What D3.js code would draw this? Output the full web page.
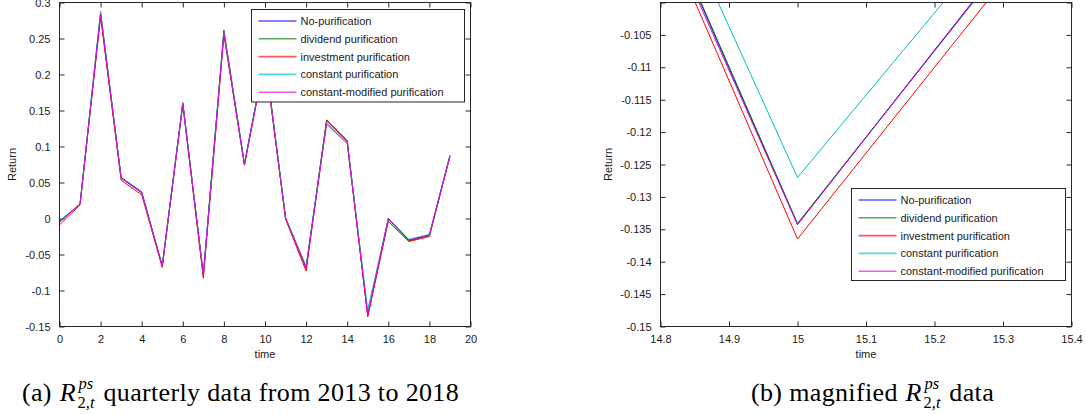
<!DOCTYPE html>
<html>
<head>
<meta charset="utf-8">
<script src="https://cdn.jsdelivr.net/npm/d3@7"></script>
<style>
  html, body { margin: 0; padding: 0; background: #fff; }
  svg { display: block; }
  .tick-label { font-family: "Liberation Sans", Arial, sans-serif; font-size: 11px; fill: #1a1a1a; }
  .caption text { font-family: "Liberation Serif", "DejaVu Serif", serif; fill: #000; white-space: pre; }
</style>
</head>
<body>
<svg id="fig" width="1086" height="414"></svg>
<script>
// Quarterly time index
const time = [0, 1, 2, 3, 4, 5, 6, 7, 8, 9, 10, 11, 12, 13, 14, 15, 16, 17, 18, 19];

// Returns of R2,t^ps under each purification scheme
const noPurification       = [-0.004, 0.020, 0.283, 0.057, 0.037, -0.066, 0.160, -0.078, 0.258, 0.075, 0.225, 0.001, -0.068, 0.136, 0.107, -0.1342, 0.000, -0.030, -0.023, 0.087];
const dividendPurification = [-0.005, 0.020, 0.286, 0.056, 0.036, -0.066, 0.161, -0.079, 0.262, 0.076, 0.226, 0.001, -0.069, 0.137, 0.108, -0.1341, -0.001, -0.031, -0.024, 0.087];
const investmentPurification = [-0.009, 0.019, 0.280, 0.053, 0.033, -0.068, 0.158, -0.083, 0.255, 0.074, 0.222, -0.001, -0.073, 0.136, 0.108, -0.1365, -0.004, -0.032, -0.025, 0.086];
const constantPurification = [-0.003, 0.020, 0.288, 0.056, 0.036, -0.065, 0.160, -0.077, 0.259, 0.075, 0.226, 0.001, -0.066, 0.133, 0.106, -0.1270, 0.000, -0.029, -0.022, 0.088];
const constantModifiedPurification = [-0.005, 0.020, 0.284, 0.056, 0.036, -0.066, 0.159, -0.078, 0.258, 0.075, 0.224, 0.000, -0.068, 0.131, 0.104, -0.1343, 0.000, -0.030, -0.023, 0.087];

const seriesNames = ["No-purification", "dividend purification", "investment purification", "constant purification", "constant-modified purification"];
const seriesColors = ["#0000ff", "#008000", "#ff0000", "#00bfbf", "#e600e6"];
const seriesValues = [noPurification, dividendPurification, investmentPurification, constantPurification, constantModifiedPurification];

// Tick values for both panels
const fullXTicks = [0, 2, 4, 6, 8, 10, 12, 14, 16, 18, 20];
const fullYTicks = [-0.15, -0.1, -0.05, 0, 0.05, 0.1, 0.15, 0.2, 0.25, 0.3];
const zoomXTicks = [14.8, 14.9, 15, 15.1, 15.2, 15.3, 15.4];
const zoomYTicks = [-0.15, -0.145, -0.14, -0.135, -0.13, -0.125, -0.12, -0.115, -0.11, -0.105, -0.1];

const svg = d3.select("#fig");

function panel(cfg) {
  const g = svg.append("g");
  const x = d3.scaleLinear().domain(cfg.xDomain).range([cfg.left, cfg.right]);
  const y = d3.scaleLinear().domain(cfg.yDomain).range([cfg.bottom, cfg.top]);
  const tickLen = 5;

  const clipId = "clip-" + cfg.id;
  svg.append("defs").append("clipPath").attr("id", clipId)
    .append("rect").attr("x", cfg.left).attr("y", cfg.top)
    .attr("width", cfg.right - cfg.left).attr("height", cfg.bottom - cfg.top);

  // axes: ticks pointing inwards on all four sides
  const fmtX = d => String(+d.toFixed(3));
  const fmtY = d => (Math.abs(d) < 1e-12 ? "0" : String(+d.toFixed(3)));

  g.append("g").attr("transform", `translate(0,${cfg.bottom})`)
    .call(d3.axisBottom(x).tickValues(cfg.xTicks).tickSizeInner(-tickLen).tickSizeOuter(0).tickPadding(9).tickFormat(fmtX))
    .call(a => a.select(".domain").remove());
  g.append("g").attr("transform", `translate(0,${cfg.top})`)
    .call(d3.axisTop(x).tickValues(cfg.xTicks).tickSizeInner(-tickLen).tickSizeOuter(0).tickFormat(""))
    .call(a => a.select(".domain").remove());
  g.append("g").attr("transform", `translate(${cfg.left},0)`)
    .call(d3.axisLeft(y).tickValues(cfg.yTicks).tickSizeInner(-tickLen).tickSizeOuter(0).tickPadding(9)
      .tickFormat(d => cfg.yHide && cfg.yHide(d) ? "" : fmtY(d)))
    .call(a => a.select(".domain").remove());
  g.append("g").attr("transform", `translate(${cfg.right},0)`)
    .call(d3.axisRight(y).tickValues(cfg.yTicks).tickSizeInner(-tickLen).tickSizeOuter(0).tickFormat(""))
    .call(a => a.select(".domain").remove());

  g.selectAll(".tick line").attr("stroke", "#262626").attr("stroke-width", 1);
  g.selectAll(".tick text").attr("class", "tick-label").attr("font-family", null).attr("font-size", null).attr("fill", null);

  // series lines
  const line = d3.line().x((d, i) => x(time[i])).y(d => y(d));
  const lines = g.append("g").attr("clip-path", `url(#${clipId})`);
  seriesValues.forEach((vals, k) => {
    lines.append("path").datum(vals)
      .attr("d", line)
      .attr("fill", "none")
      .attr("stroke", seriesColors[k])
      .attr("stroke-width", 1)
      .attr("stroke-linejoin", "miter");
  });

  // plot box
  g.append("rect").attr("x", cfg.left).attr("y", cfg.top)
    .attr("width", cfg.right - cfg.left).attr("height", cfg.bottom - cfg.top)
    .attr("fill", "none").attr("stroke", "#262626").attr("stroke-width", 1);

  // axis titles
  g.append("text").attr("class", "tick-label")
    .attr("x", (cfg.left + cfg.right) / 2).attr("y", cfg.bottom + 31)
    .attr("text-anchor", "middle").text("time");
  g.append("text").attr("class", "tick-label")
    .attr("transform", `translate(${cfg.yTitleX},${(cfg.top + cfg.bottom) / 2}) rotate(-90)`)
    .attr("text-anchor", "middle").text("Return");

  // legend
  const L = cfg.legend;
  const lg = g.append("g");
  lg.append("rect").attr("x", L.x).attr("y", L.y).attr("width", L.w).attr("height", L.h)
    .attr("fill", "#fff").attr("stroke", "#262626").attr("stroke-width", 1);
  seriesNames.forEach((name, k) => {
    const yy = L.y + 11.5 + k * 17.8;
    lg.append("line").attr("x1", L.x + 7).attr("x2", L.x + 45).attr("y1", yy).attr("y2", yy)
      .attr("stroke", seriesColors[k]).attr("stroke-width", 1.6).attr("opacity", 0.65);
    lg.append("text").attr("class", "tick-label").attr("x", L.x + 49).attr("y", yy + 4).text(name);
  });
}

panel({
  id: "full", left: 59.5, right: 470.5, top: 2.5, bottom: 326.5,
  xDomain: [0, 20], yDomain: [-0.15, 0.3], xTicks: fullXTicks, yTicks: fullYTicks,
  yTitleX: 16,
  legend: { x: 251.5, y: 9.5, w: 213, h: 92.5 }
});

panel({
  id: "zoom", left: 660.5, right: 1071.5, top: 2.5, bottom: 326.5,
  xDomain: [14.8, 15.4], yDomain: [-0.15, -0.1], xTicks: zoomXTicks, yTicks: zoomYTicks,
  yHide: d => Math.abs(d + 0.1) < 1e-9,
  yTitleX: 612,
  legend: { x: 851.5, y: 188.5, w: 214, h: 92 }
});

// captions: "(a) R^{ps}_{2,t} ..." built from pieces so the super/subscripts stack
function caption(cx, baseline, before, after) {
  const fs = 26;
  const ls = 0.35;
  const g = svg.append("g").attr("class", "caption");
  const t1 = g.append("text").attr("y", baseline).attr("font-size", fs).attr("letter-spacing", ls).attr("xml:space", "preserve").text(before);
  const tR = g.append("text").attr("y", baseline).attr("font-size", fs).attr("font-style", "italic").text("R");
  const tSup = g.append("text").attr("y", baseline - 12).attr("font-size", 16.5).attr("font-style", "italic").text("ps");
  const tSub = g.append("text").attr("y", baseline + 7).attr("font-size", 16.5);
  tSub.append("tspan").text("2,");
  tSub.append("tspan").attr("font-style", "italic").text("t");
  const t2 = g.append("text").attr("y", baseline).attr("font-size", fs).attr("letter-spacing", ls).attr("xml:space", "preserve").text(after);
  const w1 = t1.node().getComputedTextLength();
  const wR = tR.node().getComputedTextLength();
  const wScript = Math.max(tSup.node().getComputedTextLength(), tSub.node().getComputedTextLength());
  const w2 = t2.node().getComputedTextLength();
  const gap = 3;
  const total = w1 + 1 + wR + gap + wScript + w2;
  let xx = cx - total / 2;
  t1.attr("x", xx); xx += w1 + 1;
  tR.attr("x", xx); xx += wR + gap;
  tSup.attr("x", xx); tSub.attr("x", xx - 1); xx += wScript + 1;
  t2.attr("x", xx);
}

caption(240, 401, "(a) ", " quarterly data from 2013 to 2018");
caption(872, 401, "(b) magnified ", " data");
</script>
</body>
</html>
